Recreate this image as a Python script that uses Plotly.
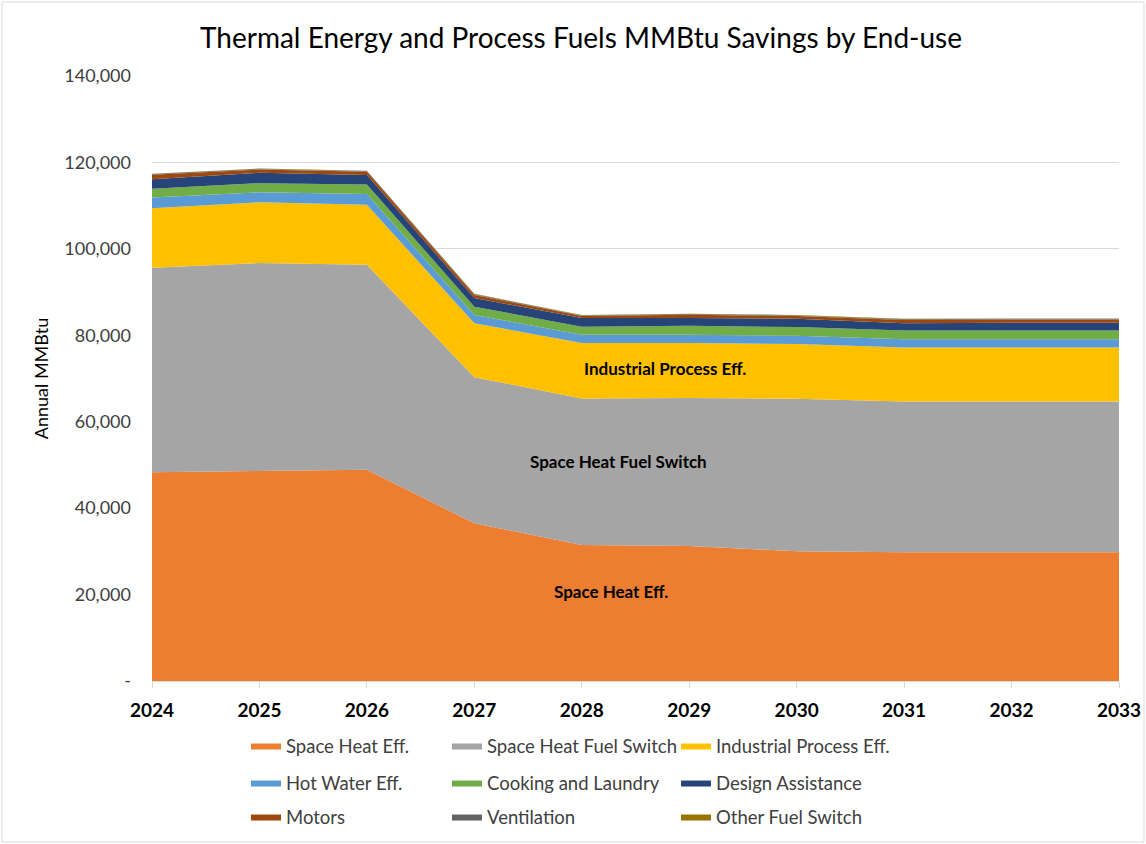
import plotly.graph_objects as go

years = [2024, 2025, 2026, 2027, 2028, 2029, 2030, 2031, 2032, 2033]

# Annual MMBtu savings per end-use (stacked bottom to top)
space_heat_eff = [48300, 48600, 48900, 36500, 31500, 31250, 30000, 29800, 29800, 29800]
space_heat_fuel_switch = [47300, 48100, 47400, 33800, 33900, 34250, 35300, 34900, 34900, 34900]
industrial_process_eff = [13800, 14100, 13900, 12500, 12800, 12700, 12700, 12500, 12500, 12500]
hot_water_eff = [2500, 2300, 2500, 1900, 1900, 1900, 1900, 1900, 1900, 1900]
cooking_and_laundry = [2000, 2100, 2200, 1900, 1900, 2100, 2000, 2000, 2000, 2000]
design_assistance = [2200, 2400, 2200, 2000, 2000, 1800, 1900, 1700, 1800, 1800]
motors = [1050, 750, 750, 750, 450, 750, 650, 750, 750, 750]
ventilation = [150, 150, 150, 150, 150, 150, 150, 150, 150, 150]
other_fuel_switch = [100, 100, 100, 100, 100, 100, 100, 100, 100, 100]

y_tick_vals = [0, 20000, 40000, 60000, 80000, 100000, 120000, 140000]
y_tick_text = ["-", "20,000", "40,000", "60,000", "80,000", "100,000", "120,000", "140,000"]

series = [
    ("Space Heat Eff.", space_heat_eff, "#ED7D31"),
    ("Space Heat Fuel Switch", space_heat_fuel_switch, "#A5A5A5"),
    ("Industrial Process Eff.", industrial_process_eff, "#FFC000"),
    ("Hot Water Eff.", hot_water_eff, "#5B9BD5"),
    ("Cooking and Laundry", cooking_and_laundry, "#70AD47"),
    ("Design Assistance", design_assistance, "#264478"),
    ("Motors", motors, "#9E480E"),
    ("Ventilation", ventilation, "#636363"),
    ("Other Fuel Switch", other_fuel_switch, "#997300"),
]

FONT = "Lato"
W, H = 1146, 844
ML, MR, MT, MB = 152, 27, 76, 0
PW, PH = W - ML - MR, H - MT - MB


def px_x(px):
    """Horizontal pixel -> paper fraction."""
    return (px - ML) / PW


def px_y(py):
    """Vertical pixel (from top) -> paper fraction."""
    return (H - MB - py) / PH


# Legend grid below the chart: 3 columns x 3 rows, one legend box per entry
legend_cols = [246, 447, 676]
legend_rows = [746, 783, 817]

fig = go.Figure()
legend_layout = {}
for i, (name, vals, color) in enumerate(series):
    key = "legend" if i == 0 else f"legend{i + 1}"
    fig.add_trace(go.Scatter(
        x=years, y=vals, name=name, mode="lines",
        stackgroup="one", fillcolor=color,
        line=dict(width=0, color=color),
        legend=key,
    ))
    legend_layout[key] = dict(
        x=px_x(legend_cols[i % 3]), xanchor="left",
        y=px_y(legend_rows[i // 3]), yanchor="middle",
        orientation="v", tracegroupgap=0, itemwidth=30,
        font=dict(family=FONT, size=18.5, color="#404040"),
        bgcolor="rgba(0,0,0,0)",
    )

# In-chart labels for the three largest end-uses
labels = [
    ("Space Heat Eff.", 2028.27, 20800),
    ("Space Heat Fuel Switch", 2028.34, 50900),
    ("Industrial Process Eff.", 2028.77, 72200),
]
for text, x, y in labels:
    fig.add_annotation(x=x, y=y, text=f"<b>{text}</b>", showarrow=False,
                       font=dict(family=FONT, size=17, color="#000000"))

fig.update_layout(
    width=W, height=H,
    margin=dict(l=ML, r=MR, t=MT, b=MB, autoexpand=False),
    paper_bgcolor="white", plot_bgcolor="white",
    title=dict(text="Thermal Energy and Process Fuels MMBtu Savings by End-use",
               x=581 / W, xanchor="center", y=0.955, yanchor="middle",
               font=dict(family=FONT, size=28, color="#000000")),
    xaxis=dict(
        range=[2024, 2033], tickmode="array", tickvals=years,
        ticktext=[str(y) for y in years],
        tickfont=dict(family=FONT, size=19, color="#000000", weight="bold"),
        showgrid=False, showline=True, linecolor="#D9D9D9", linewidth=1,
        ticks="outside", ticklen=6, tickcolor="#D9D9D9", zeroline=False,
        ticklabelstandoff=6,
    ),
    yaxis=dict(
        domain=[px_y(681), 1],
        range=[0, 140000], tickmode="array", tickvals=y_tick_vals,
        ticktext=y_tick_text,
        tickfont=dict(family=FONT, size=18, color="#404040"),
        showgrid=True, gridcolor="#D9D9D9", gridwidth=1,
        zeroline=False, showline=False, ticks="", ticklabelstandoff=20,
        title=dict(text="Annual MMBtu", font=dict(family=FONT, size=18, color="#000000"),
                   standoff=10),
    ),
    showlegend=True,
    **legend_layout,
)

# Thin outer border around the chart
fig.add_shape(type="rect", xref="paper", yref="paper",
              x0=px_x(2), x1=px_x(W - 2), y0=px_y(H - 2), y1=px_y(2),
              line=dict(color="#D9D9D9", width=1), fillcolor="rgba(0,0,0,0)")

fig.write_html("out.html")
